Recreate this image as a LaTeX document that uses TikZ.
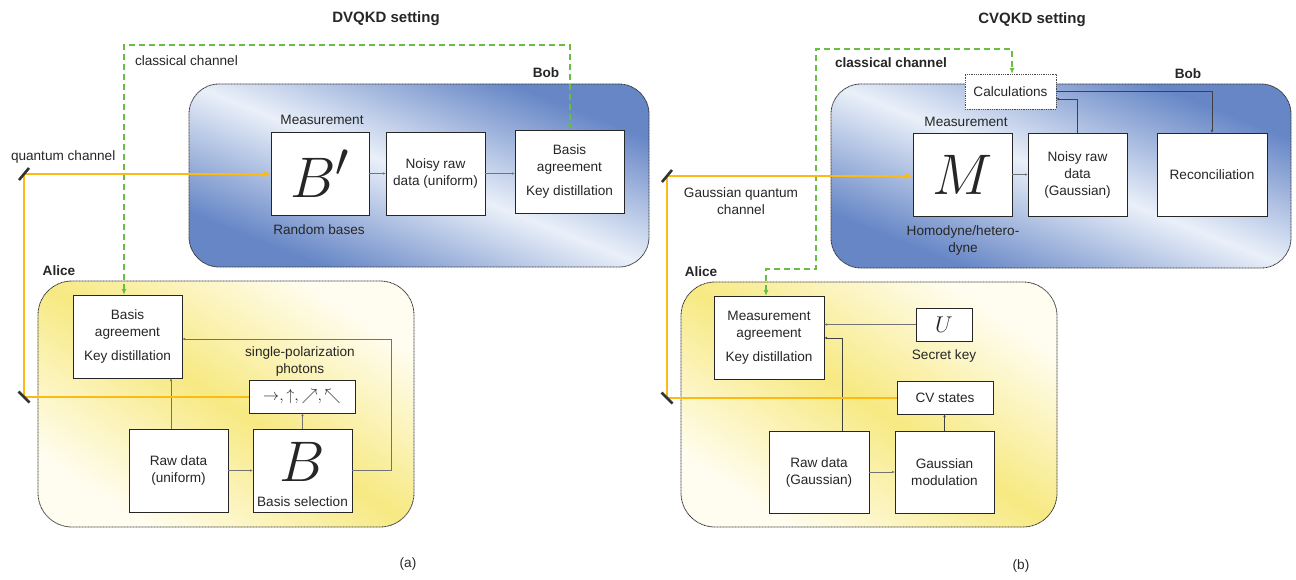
\documentclass[tikz,border=0pt]{standalone}
\usepackage{graphicx}
\usepackage{fontspec}
\setmainfont{Liberation Sans}
\usetikzlibrary{arrows.meta}
\definecolor{bobdark}{RGB}{102,134,198}
\definecolor{boblight}{RGB}{234,240,249}
\definecolor{aliceyellow}{RGB}{247,233,130}
\definecolor{alicelight}{RGB}{255,253,240}
\definecolor{qorange}{RGB}{251,186,20}
\definecolor{cgreen}{RGB}{104,190,64}
\newcommand{\bigsym}[1]{{\fontsize{24.88}{25}\selectfont\scalebox{2.3}{$#1$}}}
\begin{document}
\begin{tikzpicture}[x=1pt,y=-1pt,
  every node/.style={inner sep=0pt, outer sep=0pt, text=black!85, font=\fontsize{13.6}{17}\selectfont},
  lbl/.style={font=\fontsize{13.6}{17}\selectfont\bfseries},
  ttl/.style={font=\fontsize{15}{18}\selectfont\bfseries},
  frame/.style={draw=black!80, dash pattern=on 1pt off 0.5pt, line width=0.8pt},
  bobshade/.style={top color=bobdark, bottom color=bobdark, middle color=boblight, shading angle=-45},
  aliceshade/.style={top color=alicelight, bottom color=alicelight, middle color=aliceyellow, shading angle=-45},
  box/.style={draw=black!85, fill=white, line width=0.8pt, align=center},
  calcbox/.style={draw=black!70, densely dotted, fill=white, line width=0.8pt, align=center},
  conn/.style={draw=black!55, line width=0.6pt, -{Latex[length=3pt,width=2.4pt]}},
  conndark/.style={draw=black!75, line width=0.7pt, -{Latex[length=3pt,width=2.4pt]}},
  qch/.style={draw=qorange, line width=2pt, -{Latex[length=8pt,width=7pt]}},
  cch/.style={draw=cgreen, line width=1.3pt, dash pattern=on 6pt off 4pt,
    {Latex[length=6pt,width=5pt]}-{Latex[length=6pt,width=5pt]}},
  mirror/.style={draw=black!80, line width=2.6pt},
]
\useasboundingbox (0,0) rectangle (1296,580);

% ===================== containers =====================
\coordinate (bobAc) at (419,175.5);
\coordinate (aliceAc) at (226,404);
\coordinate (bobBc) at (1061,176);
\coordinate (aliceBc) at (869,404.5);

\begin{scope}
  \clip[rounded corners=30pt] (189,84) rectangle (649,267);
  \shade[bobshade, transform canvas={shift={(bobAc)}, xscale=460/183}] (-91.5,-91.5) rectangle (91.5,91.5);
\end{scope}
\begin{scope}
  \clip[rounded corners=34pt] (38,281) rectangle (414,527);
  \shade[aliceshade, transform canvas={shift={(aliceAc)}, xscale=376/246}] (-123,-123) rectangle (123,123);
\end{scope}
\begin{scope}
  \clip[rounded corners=30pt] (831,84) rectangle (1291,268);
  \shade[bobshade, transform canvas={shift={(bobBc)}, xscale=460/184}] (-92,-92) rectangle (92,92);
\end{scope}
\begin{scope}
  \clip[rounded corners=34pt] (681,282) rectangle (1057,527);
  \shade[aliceshade, transform canvas={shift={(aliceBc)}, xscale=376/245}] (-122.5,-122.5) rectangle (122.5,122.5);
\end{scope}

\node[frame, rounded corners=30pt, minimum width=460, minimum height=183] (bobA) at (bobAc) {};
\node[frame, rounded corners=34pt, minimum width=376, minimum height=246] (aliceA) at (aliceAc) {};
\node[frame, rounded corners=30pt, minimum width=460, minimum height=184] (bobB) at (bobBc) {};
\node[frame, rounded corners=34pt, minimum width=376, minimum height=245] (aliceB) at (aliceBc) {};

% ===================== (a) DVQKD =====================
\node[ttl] (t1) at (386,19) {DVQKD setting};
\node[anchor=west] (cc1) at (135,61) {classical channel};
\node[anchor=west] (qc1) at (11,157) {quantum channel};
\node[lbl] (bobAl) at (546,73) {Bob};
\node[lbl] (aliceAl) at (59,271) {Alice};

\node[box, minimum width=98, minimum height=83] (Bp) at (320,173.5) {\bigsym{B'}};
\node (measA) at (322,120) {Measurement};
\node (rbA) at (319,230) {Random bases};
\node[box, minimum width=99, minimum height=83] (noisyA) at (435.5,173.5) {Noisy raw\\data (uniform)};
\node[box, minimum width=109, minimum height=83] (bobBasisA) at (569.5,171.5) {Basis\\agreement\\[7pt]Key distillation};

\node[box, minimum width=109, minimum height=83] (aliceBasisA) at (127.5,336.5) {Basis\\agreement\\[7pt]Key distillation};
\node[align=center] (spp) at (300,361) {single-polarization\\photons};
\node[box, minimum width=106, minimum height=33, font=\fontsize{14.4}{15}\selectfont] (photons) at (302,396.5) {\scalebox{1.12}{$\rightarrow,\uparrow,\nearrow,\nwarrow$}};
\node[box, minimum width=99, minimum height=83] (rawA) at (178.5,470.5) {Raw data\\(uniform)};
\node[box, minimum width=99, minimum height=83] (Bbox) at (302.5,470.5) {};
\node (Bsym) at (302.5,462) {\bigsym{B}};
\node (Bsel) at (302.5,502) {Basis selection};
\node (capA) at (408,564) {(a)};

% connectors (a)
\draw[conn] (Bp.east) -- (Bp.east -| noisyA.west);
\draw[conn] (noisyA.east) -- (noisyA.east -| bobBasisA.west);
\draw[conn] ([xshift=-7.5pt]rawA.north) -- ([xshift=-7.5pt]rawA.north |- aliceBasisA.south);
\draw[conn] (rawA.east) -- (Bbox.west);
\draw[conn] (Bbox.north) -- (Bbox.north |- photons.south);
\coordinate (fbA) at (391,339);
\draw[conn] (Bbox.east) -- (Bbox.east -| fbA) -- (fbA) -- (fbA -| aliceBasisA.east);

\coordinate (gA1) at (124,45);
\coordinate (gA2) at (570,45);
\draw[cch] (aliceBasisA.north -| gA1) -- (gA1) -- (gA2) -- (bobBasisA.north -| gA2);

\coordinate (m1) at (24,174);
\coordinate (m2) at (24,397);
\draw[qch] (photons.west) -- (photons.west -| m2) -- (m1) -- (m1 -| Bp.west);
\draw[mirror] ([shift={(-5,6)}]m1) -- ([shift={(5,-6)}]m1);
\draw[mirror] ([shift={(-5.5,-5.5)}]m2) -- ([shift={(5.5,5.5)}]m2);

% ===================== (b) CVQKD =====================
\node[ttl] (t2) at (1032,20) {CVQKD setting};
\node[lbl, anchor=west] (cc2) at (835,63) {classical channel};
\node[lbl] (bobBl) at (1188,74) {Bob};
\node[lbl] (aliceBl) at (701,272) {Alice};
\node[align=center] (gqc) at (741,201) {Gaussian quantum\\channel};

\node[calcbox, minimum width=91, minimum height=35] (calc) at (1010.5,91.5) {Calculations};
\node (measB) at (966,122) {Measurement};
\node[box, minimum width=99, minimum height=83] (M) at (962.5,174.5) {\bigsym{M}};
\node[align=center] (hom) at (963,240) {Homodyne/hetero-\\dyne};
\node[box, minimum width=99, minimum height=83] (noisyB) at (1077.5,174.5) {Noisy raw\\data\\(Gaussian)};
\node[box, minimum width=110, minimum height=83] (recon) at (1212,174.5) {Reconciliation};

\node[box, minimum width=110, minimum height=83] (MA) at (769,337.5) {Measurement\\agreement\\[7pt]Key distillation};
\node[box, minimum width=56, minimum height=33, font=\fontsize{20.74}{21}\selectfont] (U) at (944,324.5) {\scalebox{1.1}{$U$}};
\node (sk) at (944,356) {Secret key};
\node[box, minimum width=96, minimum height=33] (CVs) at (945,397.5) {CV states};
\node[box, minimum width=100, minimum height=82] (rawB) at (819,472) {Raw data\\(Gaussian)};
\node[box, minimum width=99, minimum height=82] (GM) at (944.5,472) {Gaussian\\modulation};
\node (capB) at (1021,566) {(b)};

% connectors (b)
\draw[conn] (M.east) -- (M.east -| noisyB.west);
\draw[conndark] (calc.east) -- (calc.east -| recon.north) -- (recon.north);
\coordinate (cc) at (1077.5,99);
\draw[conndark] (noisyB.north) -- (cc) -- (cc -| calc.east);
\draw[conn] (U.west) -- (U.west -| MA.east);
\coordinate (ruB) at (842,338);
\draw[conndark] (rawB.north -| ruB) -- (ruB) -- (ruB -| MA.east);
\draw[conn] (rawB.east) -- (rawB.east -| GM.west);
\draw[conndark] (GM.north) -- (GM.north |- CVs.south);

\coordinate (gB1) at (766,269);
\coordinate (gB2) at (816,269);
\coordinate (gB3) at (816,49);
\coordinate (gB4) at (1012,49);
\draw[cch] (MA.north -| gB1) -- (gB1) -- (gB2) -- (gB3) -- (gB4) -- (calc.north -| gB4);

\coordinate (m3) at (667,176);
\coordinate (m4) at (667,398);
\draw[qch] (CVs.west) -- (CVs.west -| m4) -- (m3) -- (m3 -| M.west);
\draw[mirror] ([shift={(-5,6)}]m3) -- ([shift={(5,-6)}]m3);
\draw[mirror] ([shift={(-5.5,-5.5)}]m4) -- ([shift={(5.5,5.5)}]m4);
\end{tikzpicture}
\end{document}
